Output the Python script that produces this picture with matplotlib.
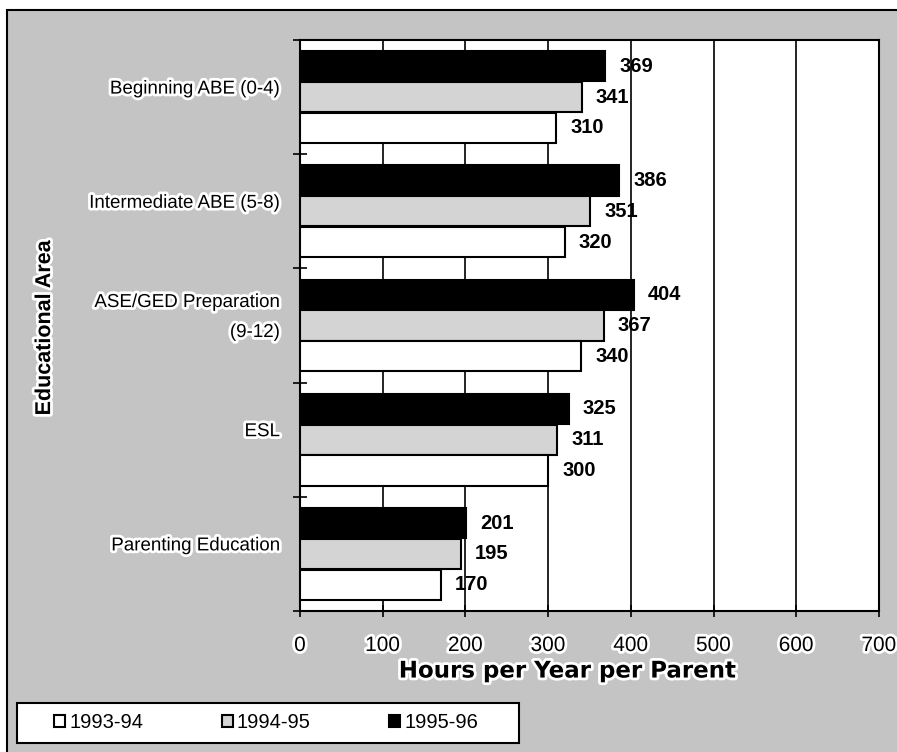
import numpy as np
import matplotlib
matplotlib.use("Agg")
import matplotlib.pyplot as plt
import matplotlib.patheffects as pe
from matplotlib.patches import Rectangle, Patch

plt.rcParams["font.family"] = ["Liberation Sans", "DejaVu Sans"]

# Hours per year per parent, by educational area
categories = [
    "Beginning ABE (0-4)", "Intermediate ABE (5-8)",
    "ASE/GED Preparation\n(9-12)", "ESL", "Parenting Education"]
years = ["1993-94", "1994-95", "1995-96"]
hours_9394 = [310, 320, 340, 300, 170]
hours_9495 = [341, 351, 367, 311, 195]
hours_9596 = [369, 386, 404, 325, 201]
xticks = [0, 100, 200, 300, 400, 500, 600, 700]

bg = "#c4c4c4"
mid = "#d4d4d4"
halo = [pe.withStroke(linewidth=4, foreground="white")]

fig = plt.figure(figsize=(8.97, 7.52), dpi=100)
fig.patch.set_facecolor("white")
# grey page with a black rule on the left and top
fig.patches.append(Rectangle(
    (7 / 897, -0.02), 1.0, 1 - 10 / 752 + 0.02, transform=fig.transFigure,
    facecolor=bg, edgecolor="black", lw=1.5, zorder=-10))

ax = fig.add_axes([300 / 897, 1 - 611 / 752, 579 / 897, 571 / 752])
ax.set_facecolor("white")

y = np.arange(len(categories))
h = 0.265
step = 0.27
series = [
    (hours_9596, "black", -step),
    (hours_9495, mid, 0.0),
    (hours_9394, "white", step),
]
for vals, col, off in series:
    bars = ax.barh(y + off, vals, height=h, color=col, edgecolor="black",
                   lw=1.5, zorder=3)
    ax.bar_label(bars, padding=10, fontsize=14.5, fontweight="bold", zorder=4)

ax.set_xlim(0, 700)
ax.set_ylim(len(categories) - 0.5, -0.5)
ax.set_xticks(xticks)
ax.set_xticklabels([str(t) for t in xticks], fontsize=15)
ax.set_yticks(np.arange(len(categories) + 1) - 0.5)
ax.set_yticklabels([])
ax.tick_params(axis="x", direction="inout", length=8, width=1.2, pad=14)
ax.tick_params(axis="y", direction="inout", length=10, width=1.2)
for lab in ax.get_xticklabels():
    lab.set_path_effects(halo)

ax.grid(axis="x", color="black", lw=1.2)
ax.set_axisbelow(True)
for s in ax.spines.values():
    s.set_linewidth(1.5)
    s.set_color("black")

# category names to the left of the plot area
for i, name in enumerate(categories):
    ax.text(-0.0345, i - 0.07, name, transform=ax.get_yaxis_transform(),
            ha="right", va="center", fontsize=13.5, linespacing=2.0,
            multialignment="right", path_effects=halo)

ax.set_xlabel("Hours per Year per Parent", family="DejaVu Sans",
              fontweight="bold", fontsize=16.5, path_effects=halo)
ax.xaxis.set_label_coords(0.461, -0.085)
ax.set_ylabel("Educational Area", fontweight="bold", fontsize=15.5,
              path_effects=halo)
ax.yaxis.set_label_coords(-0.423, 0.496)

# legend: white box along the bottom left
fig.patches.append(Rectangle(
    (17 / 897, 1 - 743 / 752), 502 / 897, 40 / 752, transform=fig.transFigure,
    facecolor="white", edgecolor="black", lw=1.5, zorder=5))
handles = [
    Patch(facecolor="white", edgecolor="black", lw=1.5),
    Patch(facecolor=mid, edgecolor="black", lw=1.5),
    Patch(facecolor="black", edgecolor="black", lw=1.5),
]
leg = fig.legend(
    handles, years, ncol=3, loc="center left",
    bbox_to_anchor=(54 / 897, 1 - 723 / 752),
    bbox_transform=fig.transFigure, fontsize=14.5,
    handlelength=0.55, handleheight=0.55, handletextpad=0.2,
    columnspacing=3.9, borderpad=0, frameon=False, borderaxespad=0)
leg.set_zorder(6)

fig.savefig("out.png", dpi=100)
